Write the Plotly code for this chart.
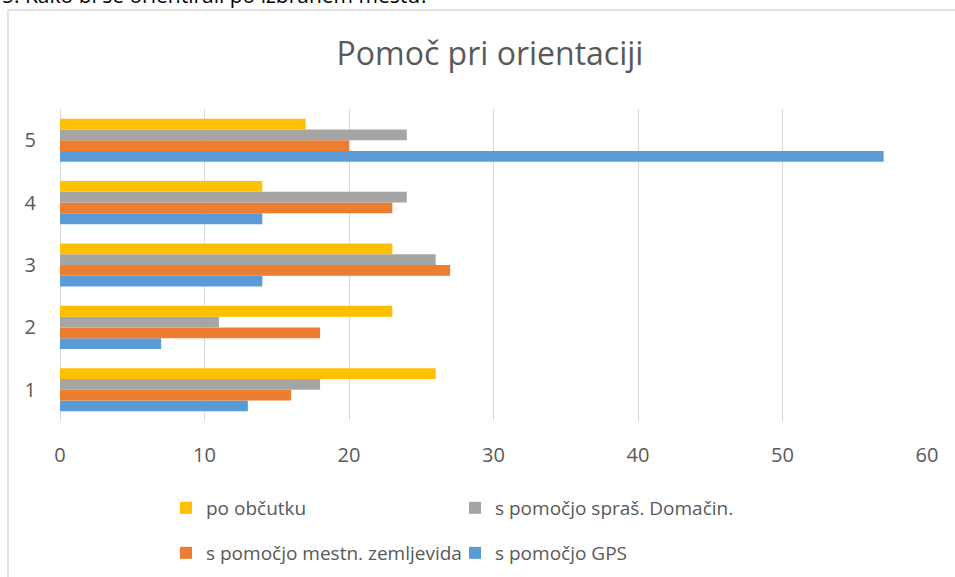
import plotly.graph_objects as go

categories = ["1", "2", "3", "4", "5"]
po_obcutku = [26, 23, 23, 14, 17]
s_pomocjo_domacin = [18, 11, 26, 24, 24]
s_pomocjo_zemljevida = [16, 18, 27, 23, 20]
s_pomocjo_gps = [13, 7, 14, 14, 57]
x_ticks = [0, 10, 20, 30, 40, 50, 60]

series_names = ["po občutku", "s pomočjo spraš. Domačin.",
                "s pomočjo mestn. zemljevida", "s pomočjo GPS"]
colors = ["#FFC000", "#A5A5A5", "#ED7D31", "#5B9BD5"]

FONT = "Open Sans"
TXT = "#595959"
W, H = 955, 577
L, R, T, B = 60, 28, 109, 156
pw, ph = W - L - R, H - T - B

def px(xp):
    return (xp - L) / pw

def py(yp):
    return (H - B - yp) / ph

fig = go.Figure()
# plotly draws first trace at bottom of group: add GPS first
order = [3, 2, 1, 0]
vals = [po_obcutku, s_pomocjo_domacin, s_pomocjo_zemljevida, s_pomocjo_gps]
for i in order:
    fig.add_trace(go.Bar(
        y=categories, x=vals[i], orientation="h", name=series_names[i],
        marker=dict(color=colors[i], line=dict(width=0)),
        legend="legend" if i in (0, 1) else "legend2",
        legendrank=i,
    ))

legend_common = dict(orientation="h", xanchor="left", yanchor="middle",
                     font=dict(family=FONT, size=19, color=TXT),
                     entrywidth=244, entrywidthmode="pixels",
                     bgcolor="rgba(0,0,0,0)", traceorder="normal")

fig.update_layout(
    width=W, height=H,
    margin=dict(l=L, r=R, t=T, b=B, autoexpand=False),
    paper_bgcolor="white", plot_bgcolor="white",
    barmode="group", bargap=0.31, bargroupgap=0,
    showlegend=True,
    title=dict(text="Pomoč pri orientaciji", x=px(490), xref="paper",
               xanchor="center", y=1 - 54 / H, yanchor="middle",
               font=dict(family=FONT, size=32, color=TXT)),
    xaxis=dict(range=[0, 60], tickvals=x_ticks, showgrid=True,
               gridcolor="#D9D9D9", gridwidth=1.3, zeroline=True,
               zerolinecolor="#D9D9D9", zerolinewidth=1.3,
               showline=False, ticks="", ticklabelstandoff=20,
               automargin=False,
               tickfont=dict(family=FONT, size=20, color=TXT)),
    yaxis=dict(type="category", categoryorder="array", categoryarray=categories,
               showgrid=False, zeroline=False, showline=False, ticks="",
               ticklabelstandoff=23, automargin=False,
               tickfont=dict(family=FONT, size=20, color=TXT)),
    legend=dict(x=px(166), y=py(508), **legend_common),
    legend2=dict(x=px(166), y=py(553), **legend_common),
)

# chart border (top and left edges visible)
fig.add_shape(type="path", xref="paper", yref="paper",
              path=f"M {px(8)},{py(H + 5)} L {px(8)},{py(10)} L {px(W + 5)},{py(10)}",
              line=dict(color="#D9D9D9", width=1.5))

# partially visible heading above the chart
fig.add_annotation(text="5. Kako bi se orientirali po izbranem mestu?",
                   xref="paper", yref="paper", x=px(0), y=py(-5),
                   xanchor="left", yanchor="middle", showarrow=False,
                   font=dict(family=FONT, size=21, color="#000000"))

fig.write_html("out.html", config={"displayModeBar": False},
               post_script="document.body.style.margin='0px';")
